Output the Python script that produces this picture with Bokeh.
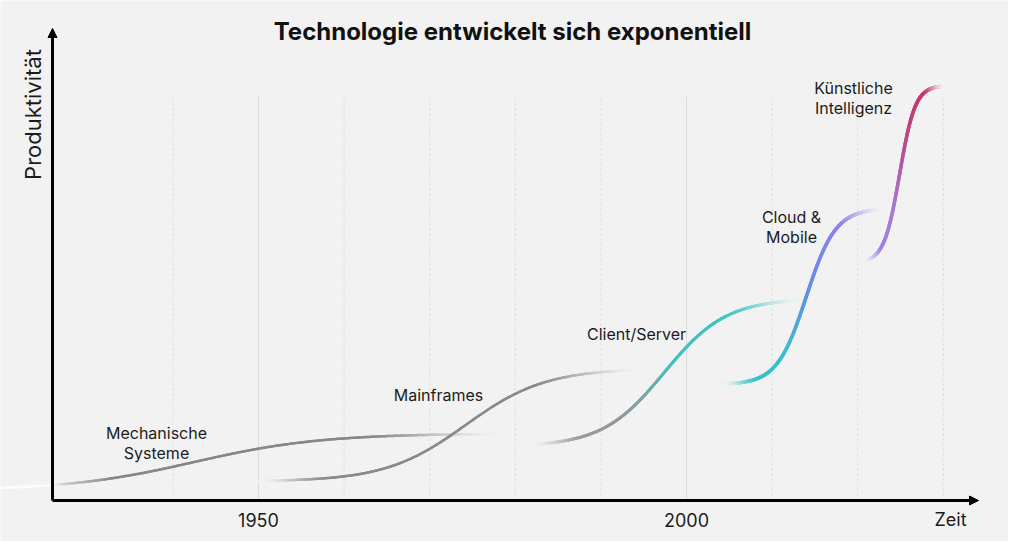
import numpy as np
from bokeh.plotting import figure
from bokeh.models import Range1d, Arrow, NormalHead, ColumnDataSource
from bokeh.core.properties import value
from bokeh.embed import file_html
from bokeh.resources import INLINE

# ---------------- data ----------------
title_text = "Technologie entwickelt sich exponentiell"
y_label = "Produktivität"
x_end_label = "Zeit"

tech_names = ["Mechanische\nSysteme", "Mainframes", "Client/Server",
              "Cloud &\nMobile", "Künstliche\nIntelligenz"]
start_year = [1919.9, 1950.0, 1981.8, 2004.2, 2020.8]
end_year = [1978.9, 1995.2, 2013.9, 2023.2, 2030.3]
mid_year = [1942.5, 1974.2, 1997.4, 2014.0, 2024.9]
spread_years = [7.4, 4.67, 3.62, 1.71, 0.91]
low_level = [10, 19, 54, 116, 238]
high_level = [67, 132, 202, 292, 415]

tick_years = [1950, 2000]
tick_labels = ["1950", "2000"]
grid_years = [1940, 1950, 1960, 1970, 1980, 1990, 2000, 2010, 2020, 2030]
solid_grid_years = [1950, 2000]

# ---------------- styles / layout ----------------
FONT = "Inter"
BG = "#f2f2f2"
TXT = "#1c1c1c"
W, H = 1008, 541
PX_PER_YEAR = 8.56
X0_YEAR = 1950 + (0 - 258) / PX_PER_YEAR
X1_YEAR = 1950 + (W - 258) / PX_PER_YEAR
AXIS_YEAR = 1950 + (52 - 258) / PX_PER_YEAR
AXIS_END_YEAR = 1950 + (978 - 258) / PX_PER_YEAR
Y_TOP_ARROW = 472
GRID_TOP = 404

curve_styles = [
    dict(stops=[(0, "#ffffff"), (0.1, "#fafafa"), (0.125, "#cfcfcf"), (0.22, "#878787"), (1, "#878787")],
         fin=0.0, fout=0.3, w=2.5),
    dict(stops=[(0, "#8a8a8a"), (1, "#8a8a8a")], fin=0.18, fout=0.3, w=2.5),
    dict(stops=[(0, "#9c9c9c"), (0.3, "#939a9a"), (0.55, "#40c2bf"), (1, "#33c9c6")], fin=0.18, fout=0.28, w=3.0),
    dict(stops=[(0, "#2cc8c5"), (0.3, "#3fbcd0"), (0.5, "#5a94e6"), (0.78, "#8c80ea"), (1, "#a48cea")], fin=0.15, fout=0.2, w=3.5),
    dict(stops=[(0, "#9a88ec"), (0.3, "#a67ad6"), (0.6, "#b8508f"), (1, "#cc2a5e")], fin=0.12, fout=0.12, w=3.5),
]
label_pos = [(156, 442), (438, 394), (636, 333), (791, 226), (853, 97)]  # reference pixels


def px_to_year(px):
    return 1950 + (px - 258) / PX_PER_YEAR


def px_to_level(py):
    return 500 - py


def hex_rgb(h):
    h = h.lstrip("#")
    return np.array([int(h[i:i + 2], 16) for i in (0, 2, 4)], dtype=float)


def color_at(stops, t):
    for (t0, c0), (t1, c1) in zip(stops[:-1], stops[1:]):
        if t <= t1:
            f = 0 if t1 == t0 else (t - t0) / (t1 - t0)
            return hex_rgb(c0) * (1 - f) + hex_rgb(c1) * f
    return hex_rgb(stops[-1][1])


p = figure(width=W, height=H, x_range=Range1d(X0_YEAR, X1_YEAR),
           y_range=Range1d(px_to_level(H), px_to_level(0)),
           x_axis_location=None, y_axis_location=None, output_backend="svg",
           toolbar_location=None, min_border=0)
p.grid.visible = False
p.outline_line_color = None
p.background_fill_color = BG
p.border_fill_color = BG

# grid lines
for gy in grid_years:
    if gy in solid_grid_years:
        p.segment(x0=[gy], y0=[0], x1=[gy], y1=[GRID_TOP], line_color="#dcdcdc", line_width=1)
    else:
        p.segment(x0=[gy], y0=[0], x1=[gy], y1=[GRID_TOP], line_color="#d8d8d8", line_width=1,
                  line_dash="2 3")

bg = hex_rgb(BG)
# S-curves
for i in range(len(tech_names)):
    st = curve_styles[i]
    x = np.linspace(start_year[i], end_year[i], 260)
    y = low_level[i] + (high_level[i] - low_level[i]) / (1 + np.exp(-(x - mid_year[i]) / spread_years[i]))
    xp = x * PX_PER_YEAR
    d = np.sqrt(np.diff(xp) ** 2 + np.diff(y) ** 2)
    s = np.concatenate([[0], np.cumsum(d)])
    s = s / s[-1]
    tm = (s[:-1] + s[1:]) / 2
    cols = []
    for t in tm:
        a = 1.0
        if st["fin"] > 0:
            a = min(a, t / st["fin"])
        if st["fout"] > 0:
            a = min(a, (1 - t) / st["fout"])
        a = max(0.0, min(1.0, a))
        a = a * a * (3 - 2 * a)
        c = color_at(st["stops"], t) * a + bg * (1 - a)
        cols.append("#%02x%02x%02x" % tuple(int(round(v)) for v in c))
    src = ColumnDataSource(dict(x0=x[:-1], y0=y[:-1], x1=x[1:], y1=y[1:], c=cols))
    p.segment(x0="x0", y0="y0", x1="x1", y1="y1", line_color="c", line_width=st["w"],
              line_cap="round", source=src)

# axes arrows
p.add_layout(Arrow(end=NormalHead(size=9, fill_color="black", line_color="black"),
                   x_start=AXIS_YEAR, y_start=0, x_end=AXIS_END_YEAR, y_end=0,
                   line_width=3, line_color="black"))
p.add_layout(Arrow(end=NormalHead(size=9, fill_color="black", line_color="black"),
                   x_start=AXIS_YEAR, y_start=0, x_end=AXIS_YEAR, y_end=Y_TOP_ARROW,
                   line_width=3, line_color="black"))

# curve labels
p.text(x=[px_to_year(a) for a, b in label_pos], y=[px_to_level(b) for a, b in label_pos], text=tech_names,
       text_font=value(FONT), text_font_size="16px", text_align="center", text_baseline="middle",
       text_color=TXT, text_line_height=1.0)

# tick labels
p.text(x=tick_years + [px_to_year(950)], y=[px_to_level(519)] * 3, text=tick_labels + [x_end_label],
       text_font=value(FONT), text_font_size="18px", text_align="center", text_baseline="middle",
       text_color=TXT)

# y label
p.text(x=[px_to_year(32.5)], y=[px_to_level(114)], text=[y_label], angle=np.pi / 2,
       text_font=value(FONT), text_font_size="22px", text_align="center", text_baseline="middle",
       text_color=TXT)

# title
p.text(x=[px_to_year(512)], y=[px_to_level(31)], text=[title_text], text_font=value(FONT),
       text_font_size="24px", text_font_style="bold", text_align="center", text_baseline="middle",
       text_color="#111111")

open("out.html", "w").write(file_html(p, INLINE))
